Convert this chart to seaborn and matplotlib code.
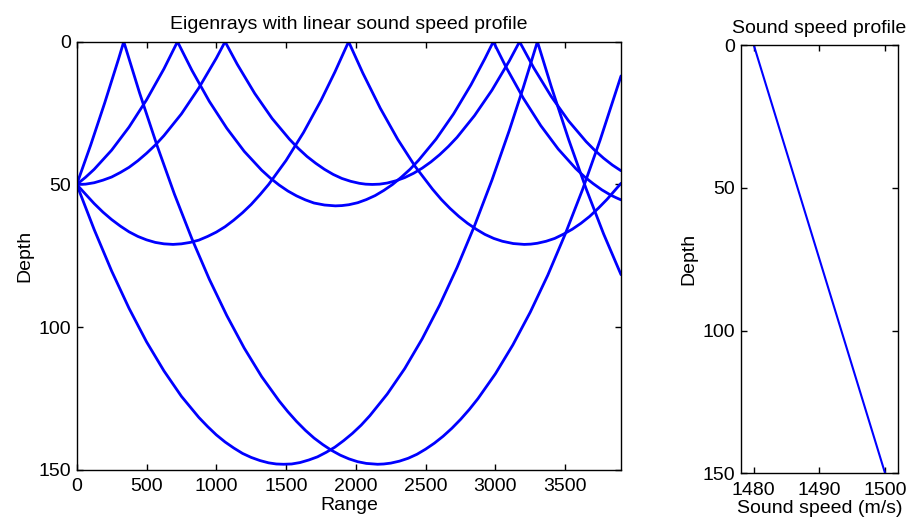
import numpy as np
import pandas as pd
import matplotlib
matplotlib.use("Agg")
import matplotlib.pyplot as plt
import seaborn as sns

# ---- eigenray paths (range, depth) ----
ray_a_range = [0, 100, 200, 300, 337, 450, 575, 700, 825, 950, 1075, 1200, 1325, 1450, 1513,
               1575, 1638, 1700, 1763, 1825, 1888, 1950, 2013, 2075, 2156, 2200, 2250, 2313,
               2375, 2438, 2500, 2563, 2625, 2688, 2750, 2813, 2875, 3000, 3125, 3250, 3375,
               3500, 3625, 3750, 3900]
ray_a_depth = [50.0, 36.2, 21.5, 6.0, 0.0, 17.9, 36.3, 53.4, 69.0, 83.2, 95.9, 107.3, 117.3, 125.8, 129.6,
               133.0, 136.1, 138.8, 141.1, 143.1, 144.8, 146.1, 147.1, 147.7, 148.0, 147.9, 147.6, 146.9,
               145.9, 144.5, 142.7, 140.6, 138.2, 135.4, 132.3, 128.8, 125.0, 116.3, 106.2, 94.7, 81.8,
               67.4, 51.7, 34.5, 12.0]

ray_b_range = [0, 125, 250, 375, 500, 625, 750, 875, 938, 1000, 1063, 1125, 1188, 1250, 1313,
               1375, 1430, 1482, 1540, 1600, 1663, 1725, 1788, 1850, 1913, 1975, 2038, 2100,
               2225, 2350, 2475, 2600, 2725, 2850, 2975, 3100, 3200, 3301, 3400, 3525, 3650,
               3775, 3900]
ray_b_depth = [50.0, 65.8, 80.3, 93.4, 105.1, 115.3, 124.2, 131.6, 134.8, 137.7, 140.2, 142.3, 144.2, 145.6, 146.7,
               147.5, 147.9, 148.0, 147.9, 147.4, 146.5, 145.4, 143.8, 142.0, 139.7, 137.2, 134.3, 131.0,
               123.4, 114.5, 104.1, 92.3, 79.1, 64.5, 48.5, 31.0, 16.0, 0.0, 15.7, 34.3, 51.5,
               67.3, 81.6]

ray_c_range = [0, 63, 125, 188, 250, 313, 375, 438, 500, 563, 625, 690, 750, 813, 875,
               938, 1000, 1063, 1125, 1188, 1250, 1313, 1375, 1500, 1625, 1750, 1850, 1948,
               2050, 2175, 2300, 2425, 2550, 2613, 2675, 2738, 2800, 2863, 2925, 2988, 3050,
               3128, 3206, 3253, 3300, 3363, 3425, 3488, 3550, 3613, 3675, 3738, 3800, 3850, 3900]
ray_c_depth = [50.0, 53.4, 56.7, 59.7, 62.3, 64.6, 66.6, 68.2, 69.4, 70.3, 70.8, 71.0, 70.8, 70.3, 69.5,
               68.2, 66.7, 64.8, 62.5, 59.9, 57.0, 53.6, 50.0, 41.6, 31.8, 20.6, 10.6, 0.0,
               11.0, 23.3, 34.2, 43.7, 51.7, 55.3, 58.4, 61.2, 63.6, 65.7, 67.5, 68.9, 69.9,
               70.7, 71.0, 70.9, 70.6, 69.9, 68.9, 67.4, 65.7, 63.6, 61.2, 58.3, 55.2, 52.4, 49.6]

ray_d_range = [0, 63, 125, 188, 250, 313, 375, 438, 500, 563, 625, 750, 875, 1000, 1063,
               1150, 1275, 1400, 1525, 1588, 1650, 1713, 1775, 1838, 1900, 1963, 2025, 2070,
               2118, 2170, 2225, 2288, 2350, 2413, 2475, 2538, 2600, 2663, 2725, 2850, 2975,
               3100, 3173, 3275, 3400, 3525, 3650, 3713, 3775, 3838, 3900]
ray_d_depth = [50.0, 49.9, 49.4, 48.5, 47.4, 45.8, 44.0, 41.7, 39.1, 36.2, 32.9, 25.3, 16.2, 5.8, 0.0,
               7.9, 18.1, 26.9, 34.2, 37.4, 40.2, 42.6, 44.7, 46.5, 47.9, 48.9, 49.6, 49.9,
               50.0, 49.9, 49.5, 48.7, 47.6, 46.1, 44.3, 42.1, 39.6, 36.7, 33.5, 25.9, 17.0,
               6.7, 0.0, 9.2, 19.2, 27.8, 35.0, 38.1, 40.8, 43.2, 45.2]

ray_e_range = [0, 63, 125, 250, 375, 500, 625, 722, 825, 950, 1075, 1200, 1325, 1388, 1450,
               1513, 1575, 1638, 1700, 1775, 1853, 1900, 1950, 2013, 2075, 2138, 2200, 2263,
               2325, 2388, 2450, 2575, 2700, 2825, 2925, 2985, 3075, 3200, 3325, 3450, 3575,
               3638, 3700, 3763, 3825, 3863, 3900]
ray_e_depth = [50.0, 47.5, 44.7, 38.0, 29.9, 20.4, 9.5, 0.0, 10.0, 20.9, 30.3, 38.4, 45.0, 47.8, 50.2,
               52.3, 54.0, 55.4, 56.5, 57.2, 57.5, 57.4, 57.1, 56.4, 55.3, 53.9, 52.1, 50.0,
               47.5, 44.7, 41.5, 34.1, 25.3, 15.1, 5.9, 0.0, 8.8, 19.8, 29.4, 37.6, 44.4,
               47.3, 49.7, 51.9, 53.7, 54.6, 55.4]

# ---- sound speed profile ----
profile_depth = [0, 150]
profile_speed = [1480, 1500]

range_ticks = [0, 500, 1000, 1500, 2000, 2500, 3000, 3500]
depth_ticks = [0, 50, 100, 150]
speed_ticks = [1480, 1490, 1500]

rays = {
    "A": (ray_a_range, ray_a_depth),
    "B": (ray_b_range, ray_b_depth),
    "C": (ray_c_range, ray_c_depth),
    "D": (ray_d_range, ray_d_depth),
    "E": (ray_e_range, ray_e_depth),
}
frames = []
for name, (r, d) in rays.items():
    frames.append(pd.DataFrame({"ray": name, "step": np.arange(len(r)), "range": r, "depth": d}))
ray_df = pd.concat(frames, ignore_index=True)
prof_df = pd.DataFrame({"speed": profile_speed, "depth": profile_depth})

sns.set_theme(style="ticks")
plt.rcParams['font.family'] = ['Liberation Sans', 'DejaVu Sans']
plt.rcParams.update({
    "axes.edgecolor": "black",
    "axes.linewidth": 1.0,
    "xtick.color": "black",
    "ytick.color": "black",
    "text.color": "black",
    "axes.labelcolor": "black",
    "lines.solid_joinstyle": "round",
})

FS = 14
fig = plt.figure(figsize=(9.07, 5.25), dpi=100)
fig.patch.set_facecolor("white")
ax1 = fig.add_axes([0.0846, 0.1048, 0.6001, 0.8158])
ax2 = fig.add_axes([0.8166, 0.0981, 0.1738, 0.8160])

sns.lineplot(data=ray_df, x="range", y="depth", units="ray", estimator=None, sort=False,
             color="#0000ff", lw=2.0, ax=ax1)
sns.lineplot(data=prof_df, x="speed", y="depth", estimator=None, sort=False,
             color="#0000ff", lw=1.5, ax=ax2)

for ax in (ax1, ax2):
    ax.tick_params(direction="in", top=True, right=True, length=4, width=1.0,
                   labelsize=FS)
    ax.tick_params(axis="x", pad=6)
    ax.tick_params(axis="y", pad=4)
    for s in ax.spines.values():
        s.set_visible(True)
        s.set_color("black")
        s.set_linewidth(1.0)
    ax.set_facecolor("white")

ax1.set_xlim(0, 3900)
ax1.set_ylim(150, 0)
ax1.set_xticks(range_ticks)
ax1.set_yticks(depth_ticks)
ax1.set_xlabel("Range", fontsize=FS, labelpad=1)
ax1.set_ylabel("Depth", fontsize=FS, labelpad=4)
ax1.set_title("Eigenrays with linear sound speed profile", fontsize=FS, pad=9)

ax2.set_xlim(1478, 1502)
ax2.set_ylim(150, 0)
ax2.set_xticks(speed_ticks)
ax2.set_yticks(depth_ticks)
ax2.set_xlabel("Sound speed (m/s)", fontsize=FS, labelpad=1)
ax2.set_ylabel("Depth", fontsize=FS, labelpad=4)
ax2.set_title("Sound speed profile", fontsize=FS, pad=9)

fig.savefig("out.png", dpi=100, facecolor="white")
